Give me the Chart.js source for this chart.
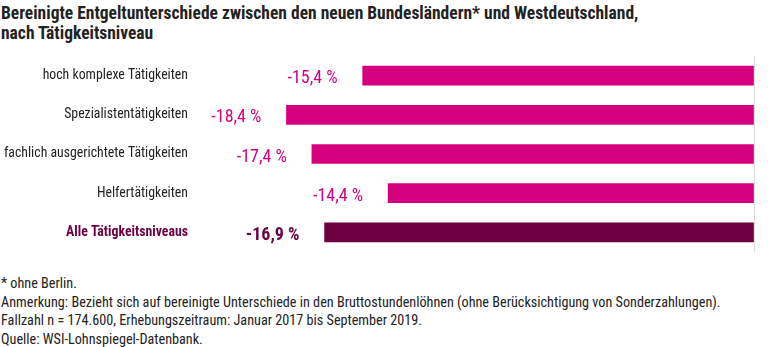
<!DOCTYPE html>
<html>
<head>
    <title>Bereinigte Entgeltunterschiede</title>
    <script src="https://cdn.jsdelivr.net/npm/chart.js"></script>
    <style>
        body { margin: 0; width: 768px; height: 347px; overflow: hidden; background: #fff;
               font-family: "Roboto Condensed", sans-serif; color: #222; }
        #title { position: absolute; left: 1px; top: 3px; font-size: 17.5px; font-weight: bold; line-height: 20px; white-space: nowrap; }
        #notes { position: absolute; left: 1px; top: 274px; font-size: 14.2px; line-height: 18.5px; white-space: nowrap; }
        #gapChart { position: absolute; left: 0; top: 56px; }
    </style>
</head>
<body>
    <div id="title">Bereinigte Entgeltunterschiede zwischen den neuen Bundesländern* und Westdeutschland,<br>nach Tätigkeitsniveau</div>
    <canvas id="gapChart" width="768" height="196"></canvas>
    <div id="notes">
        * ohne Berlin.<br>
        Anmerkung: Bezieht sich auf bereinigte Unterschiede in den Bruttostundenlöhnen (ohne Berücksichtigung von Sonderzahlungen).<br>
        Fallzahl n = 174.600, Erhebungszeitraum: Januar 2017 bis September 2019.<br>
        Quelle: WSI-Lohnspiegel-Datenbank.
    </div>
    <script>
        const categories = ['hoch komplexe Tätigkeiten', 'Spezialistentätigkeiten', 'fachlich ausgerichtete Tätigkeiten', 'Helfertätigkeiten', 'Alle Tätigkeitsniveaus'];
        const gapValues = [-15.4, -18.4, -17.4, -14.4, -16.9];

        const pink = '#d4007e';
        const dark = '#6d003f';
        const fontName = '"Roboto Condensed", sans-serif';

        // value labels left of each bar
        const valueLabels = {
            id: 'valueLabels',
            afterDatasetsDraw(chart) {
                const ctx = chart.ctx;
                const meta = chart.getDatasetMeta(0);
                ctx.save();
                ctx.textAlign = 'right';
                ctx.textBaseline = 'middle';
                meta.data.forEach((bar, i) => {
                    const last = i === gapValues.length - 1;
                    ctx.font = (last ? 'bold ' : '') + '18px ' + fontName;
                    ctx.fillStyle = last ? dark : pink;
                    const txt = gapValues[i].toFixed(1).replace('.', ',') + ' %';
                    ctx.fillText(txt, bar.x - 25, bar.y + 3);
                });
                ctx.restore();
            }
        };

        new Chart(document.getElementById('gapChart'), {
            type: 'bar',
            data: {
                labels: categories,
                datasets: [{
                    data: gapValues,
                    backgroundColor: gapValues.map((v, i) => i === gapValues.length - 1 ? dark : pink),
                    barThickness: 19,
                    borderWidth: 0
                }]
            },
            options: {
                indexAxis: 'y',
                responsive: false,
                animation: false,
                layout: { padding: { left: 0, right: 14, top: 0, bottom: 0 } },
                plugins: { legend: { display: false }, tooltip: { enabled: false } },
                scales: {
                    x: {
                        min: -22,
                        max: 0,
                        border: { display: false },
                        ticks: { display: false },
                        afterFit: s => { s.height = 0; },
                        grid: {
                            drawTicks: false,
                            color: c => c.tick && c.tick.value === 0 ? '#dddddd' : 'rgba(0,0,0,0)'
                        }
                    },
                    y: {
                        border: { display: false },
                        grid: { display: false, drawTicks: false },
                        afterFit: s => { s.width = 195; s.paddingTop = 0; s.paddingBottom = 0; },
                        ticks: {
                            padding: 7,
                            color: c => c.index === 4 ? dark : '#222',
                            font: c => ({ family: fontName, size: 13.8, weight: c.index === 4 ? 'bold' : 'normal' })
                        }
                    }
                }
            },
            plugins: [valueLabels]
        });
    </script>
</body>
</html>
